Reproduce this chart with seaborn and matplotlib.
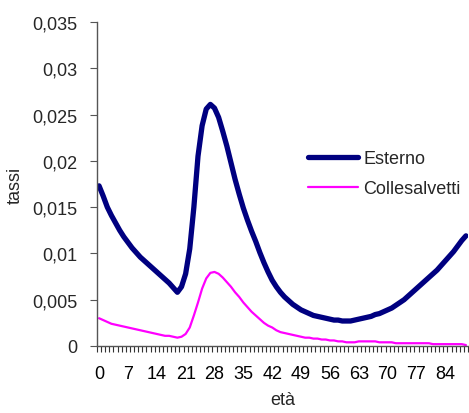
import numpy as np
import pandas as pd
import matplotlib
matplotlib.use("Agg")
import matplotlib.pyplot as plt
from matplotlib.ticker import FuncFormatter, FixedLocator
import seaborn as sns

ages = list(range(0, 90))

esterno = [
    0.0173, 0.0162, 0.0150, 0.0141, 0.0133, 0.0125, 0.0118, 0.0112, 0.0106, 0.0101,
    0.0096, 0.0092, 0.0088, 0.0084, 0.0080, 0.0076, 0.0072, 0.0068, 0.0063, 0.0058,
    0.0064, 0.0078, 0.0105, 0.0150, 0.0205, 0.0238, 0.0256, 0.0261, 0.0257, 0.0247,
    0.0232, 0.0216, 0.0198, 0.0180, 0.0164, 0.0149, 0.0136, 0.0124, 0.0113, 0.0101,
    0.0090, 0.0080, 0.0071, 0.0064, 0.0058, 0.0053, 0.0049, 0.0045, 0.0042, 0.0039,
    0.0037, 0.0035, 0.0033, 0.0032, 0.0031, 0.0030, 0.0029, 0.0028, 0.0028, 0.0027,
    0.0027, 0.0027, 0.0028, 0.0029, 0.0030, 0.0031, 0.0032, 0.0034, 0.0035, 0.0037,
    0.0039, 0.0041, 0.0044, 0.0047, 0.0050, 0.0054, 0.0058, 0.0062, 0.0066, 0.0070,
    0.0074, 0.0078, 0.0082, 0.0087, 0.0092, 0.0097, 0.0102, 0.0108, 0.0114, 0.0119,
]

collesalvetti = [
    0.0030, 0.0028, 0.0026, 0.0024, 0.0023, 0.0022, 0.0021, 0.0020, 0.0019, 0.0018,
    0.0017, 0.0016, 0.0015, 0.0014, 0.0013, 0.0012, 0.0011, 0.0011, 0.0010, 0.0009,
    0.0010, 0.0013, 0.0020, 0.0033, 0.0047, 0.0062, 0.0073, 0.0079, 0.0080, 0.0078,
    0.0074, 0.0069, 0.0064, 0.0058, 0.0053, 0.0047, 0.0042, 0.0037, 0.0033, 0.0029,
    0.0025, 0.0022, 0.0020, 0.0017, 0.0015, 0.0014, 0.0013, 0.0012, 0.0011, 0.0010,
    0.0009, 0.0009, 0.0008, 0.0008, 0.0007, 0.0007, 0.0006, 0.0006, 0.0005, 0.0005,
    0.0004, 0.0004, 0.0004, 0.0005, 0.0005, 0.0005, 0.0005, 0.0005, 0.0004, 0.0004,
    0.0004, 0.0004, 0.0003, 0.0003, 0.0003, 0.0003, 0.0003, 0.0003, 0.0003, 0.0003,
    0.0003, 0.0002, 0.0002, 0.0002, 0.0002, 0.0002, 0.0002, 0.0002, 0.0002, 0.0001,
]

x_tick_labels = [str(a) for a in range(0, 85, 7)]
y_ticks = [0, 0.005, 0.01, 0.015, 0.02, 0.025, 0.03, 0.035]

series_names = ["Esterno", "Collesalvetti"]

df = pd.DataFrame({
    "età": ages * 2,
    "tassi": esterno + collesalvetti,
    "serie": [series_names[0]] * len(ages) + [series_names[1]] * len(ages),
})

sns.set_style("white")
plt.rcParams["font.family"] = ["Liberation Sans", "DejaVu Sans"]
FS = 13

fig = plt.figure(figsize=(4.69, 4.14), dpi=100)
ax = fig.add_axes([97 / 469, (414 - 347) / 414, 371 / 469, 324 / 414])

sns.lineplot(data=df, x="età", y="tassi", hue="serie", size="serie",
             hue_order=series_names, size_order=series_names,
             palette={"Esterno": "#000080", "Collesalvetti": "#FF00FF"},
             sizes={"Esterno": 3.8, "Collesalvetti": 1.6},
             ax=ax, legend=True)
for ln in ax.lines:
    ln.set_solid_capstyle("round")
    ln.set_solid_joinstyle("round")

ax.set_xlim(-0.5, 89.5)
ax.set_ylim(0, 0.035)

# ticks
ax.xaxis.set_major_locator(FixedLocator(list(range(0, 85, 7))))
ax.set_xticklabels(x_tick_labels)
ax.xaxis.set_minor_locator(FixedLocator([i - 0.5 for i in range(0, 91)]))
ax.tick_params(axis="x", which="major", length=0, pad=14, labelsize=FS, colors="black")
ax.tick_params(axis="x", which="minor", length=4, width=0.8, color="#333333", direction="out", bottom=True)
ax.set_yticks(y_ticks)
ax.yaxis.set_major_formatter(FuncFormatter(lambda v, p: f"{round(v, 3):g}".replace(".", ",")))
ax.tick_params(axis="y", which="major", length=5, width=0.8, color="#555555", pad=9,
               labelsize=FS, left=True, direction="out")

for s in ["top", "right"]:
    ax.spines[s].set_visible(False)
for s in ["left", "bottom"]:
    ax.spines[s].set_color("#555555")
    ax.spines[s].set_linewidth(1.0)

ax.set_xlabel("età", fontsize=FS, labelpad=6)
ax.set_ylabel("tassi", fontsize=FS, labelpad=6)

handles, labels = ax.get_legend_handles_labels()
for h in handles:
    h.set_solid_capstyle("round")
ax.legend(handles=handles, labels=labels, loc="upper left",
          bbox_to_anchor=((308 - 97) / 371, (347 - 151) / 324),
          frameon=False, fontsize=FS, handlelength=2.75, handletextpad=0.3,
          labelspacing=0.72, borderpad=0, borderaxespad=0)

fig.savefig("out.png", dpi=100)
